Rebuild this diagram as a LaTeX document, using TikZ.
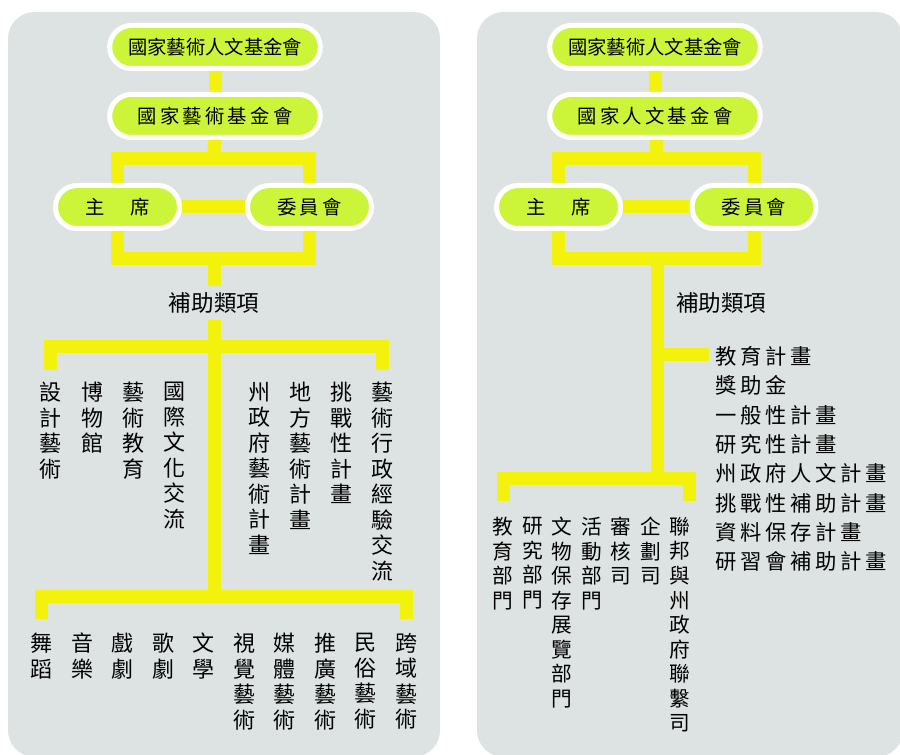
\documentclass[tikz,border=0pt]{standalone}
\usepackage{fontspec}
\setmainfont{Noto Sans CJK TC}
\newfontfamily\widecjk[LetterSpace=17]{Noto Sans CJK TC}
\usetikzlibrary{positioning}
\pgfdeclarelayer{background}
\pgfdeclarelayer{lines}
\pgfsetlayers{background,lines,main}
\definecolor{panelgray}{RGB}{220,227,226}
\definecolor{linkyellow}{RGB}{242,242,12}
\definecolor{pilllime}{RGB}{204,245,58}
\tikzstyle{pill}=[draw=white, line width=3.75pt, fill=pilllime,
  rounded corners=16.1pt, minimum height=32.25pt, inner sep=0pt,
  font=\fontsize{14.5}{16}\selectfont]
\tikzstyle{bigpill}=[pill, minimum width=158pt]
\tikzstyle{smallpill}=[pill, minimum width=93pt]
\tikzstyle{link}=[draw=linkyellow, line width=9.75pt]
\tikzstyle{vtext}=[align=center, anchor=north, inner xsep=0pt,
  inner ysep=9pt, font=\fontsize{16.5}{19.1}\selectfont]
\tikzstyle{vtextlow}=[vtext, inner ysep=10.5pt]
\tikzstyle{vtextsm}=[vtext, inner ysep=12pt, font=\fontsize{15.5}{18.4}\selectfont]
\tikzstyle{catlabel}=[inner xsep=0pt, inner ysep=4.5pt,
  font=\fontsize{16.9}{18}\selectfont]
\tikzstyle{grantlist}=[align=left, anchor=north west, inner xsep=4.5pt,
  inner ysep=0pt, font=\widecjk\fontsize{16}{22}\selectfont]
\newcommand{\orgpill}[3]{node (#1) [#2] {#3}}
\newcommand{\vcol}[3]{node (#1) [#2] {#3}}
\newcommand{\panelbg}[2]{%
  \begin{pgfonlayer}{background}
    \path[fill=panelgray, rounded corners=20pt] (#1) rectangle (#2);
  \end{pgfonlayer}}

\begin{document}
\begin{tikzpicture}[x=0.75pt,y=-0.75pt]
  \useasboundingbox (0,0) rectangle (900,755);

  % Draw diagram elements
  % left chart: arts
  \path (215,47) \orgpill{lcouncil}{bigpill}{國家藝術人文基金會};
  \path (lcouncil)+(0,69) \orgpill{lnea}{bigpill}{\widecjk 國家藝術基金會};
  \path (117.5,207) \orgpill{lchair}{smallpill}{\widecjk 主　席};
  \path (309.5,207) \orgpill{lboard}{smallpill}{\widecjk 委員會};
  \path (214,303) node (lsub) [catlabel] {補助類項};
  \coordinate (ltop) at (214,158.5);
  \coordinate (lbot) at (214,258.5);
  \coordinate (lmid) at (214,347);
  \coordinate (lfoot) at (214,596.5);

  \path (50,370) \vcol{m1}{vtext}{設\\計\\藝\\術};
  \path (92,370) \vcol{m2}{vtext}{博\\物\\館};
  \path (133,370) \vcol{m3}{vtext}{藝\\術\\教\\育};
  \path (174,370) \vcol{m4}{vtext}{國\\際\\文\\化\\交\\流};
  \path (259.5,370) \vcol{m5}{vtext}{州\\政\\府\\藝\\術\\計\\畫};
  \path (300,370) \vcol{m6}{vtext}{地\\方\\藝\\術\\計\\畫};
  \path (341,370) \vcol{m7}{vtext}{挑\\戰\\性\\計\\畫};
  \path (382,370) \vcol{m8}{vtext}{藝\\術\\行\\政\\經\\驗\\交\\流};

  \path (41,619) \vcol{b1}{vtextlow}{舞\\蹈};
  \path (82,619) \vcol{b2}{vtextlow}{音\\樂};
  \path (122.5,619) \vcol{b3}{vtextlow}{戲\\劇};
  \path (163,619) \vcol{b4}{vtextlow}{歌\\劇};
  \path (203.5,619) \vcol{b5}{vtextlow}{文\\學};
  \path (244,619) \vcol{b6}{vtextlow}{視\\覺\\藝\\術};
  \path (284.5,619) \vcol{b7}{vtextlow}{媒\\體\\藝\\術};
  \path (325,619) \vcol{b8}{vtextlow}{推\\廣\\藝\\術};
  \path (365.5,619) \vcol{b9}{vtextlow}{民\\俗\\藝\\術};
  \path (406,619) \vcol{b10}{vtextlow}{跨\\域\\藝\\術};

  % right chart: humanities
  \path (655,47) \orgpill{rcouncil}{bigpill}{國家藝術人文基金會};
  \path (rcouncil)+(0,69) \orgpill{rneh}{bigpill}{\widecjk 國家人文基金會};
  \path (558.5,207) \orgpill{rchair}{smallpill}{\widecjk 主　席};
  \path (754,207) \orgpill{rboard}{smallpill}{\widecjk 委員會};
  \path (676,303) node (rsub) [catlabel, anchor=west] {補助類項};
  \coordinate (rtop) at (657,158.5);
  \coordinate (rbot) at (657,258.5);
  \coordinate (rjoin) at (657,354.5);
  \coordinate (rfoot) at (657,479);
  \path (709,346) node (grants) [grantlist]
    {教育計畫\\獎助金\\一般性計畫\\研究性計畫\\州政府人文計畫\\挑戰性補助計畫\\資料保存計畫\\研習會補助計畫};

  \path (503,501) \vcol{r1}{vtextsm}{教\\育\\部\\門};
  \path (532.5,501) \vcol{r2}{vtextsm}{研\\究\\部\\門};
  \path (562,501) \vcol{r3}{vtextsm}{文\\物\\保\\存\\展\\覽\\部\\門};
  \path (591.5,501) \vcol{r4}{vtextsm}{活\\動\\部\\門};
  \path (621,501) \vcol{r5}{vtextsm}{審\\核\\司};
  \path (650.5,501) \vcol{r6}{vtextsm}{企\\劃\\司};
  \path (680,501) \vcol{r7}{vtextsm}{聯\\邦\\與\\州\\政\\府\\聯\\繫\\司};

  % Draw connectors
  \begin{pgfonlayer}{lines}
    \path [link] (lcouncil) -- (lnea);
    \path [link] (lnea) -- (ltop);
    \path [link] (lchair) |- (ltop) -| (lboard);
    \path [link] (lchair) |- (lbot) -| (lboard);
    \path [link] (lchair) -- (lboard);
    \path [link] (lbot) -- (lsub.north);
    \path [link] (lsub.south) -- (lfoot);
    \path [link] (m1.north) |- (lmid) -| (m8.north);
    \path [link] (b1.north) |- (lfoot) -| (b10.north);

    \path [link] (rcouncil) -- (rneh);
    \path [link] (rneh) -- (rtop);
    \path [link] (rchair) |- (rtop) -| (rboard);
    \path [link] (rchair) |- (rbot) -| (rboard);
    \path [link] (rchair) -- (rboard);
    \path [link] (rbot) -- (rfoot);
    \path [link] (rjoin) -- (rjoin -| grants.west);
    \path [link] (r1.north) |- (rfoot) -| ([xshift=7.1pt]r7.north);
  \end{pgfonlayer}

  % background panels
  \coordinate (pa1) at (8,12);
  \coordinate (pa2) at (440,757);
  \coordinate (pb1) at (477,12);
  \coordinate (pb2) at (903,757);
  \panelbg{pa1}{pa2}
  \panelbg{pb1}{pb2}

\end{tikzpicture}
\end{document}
